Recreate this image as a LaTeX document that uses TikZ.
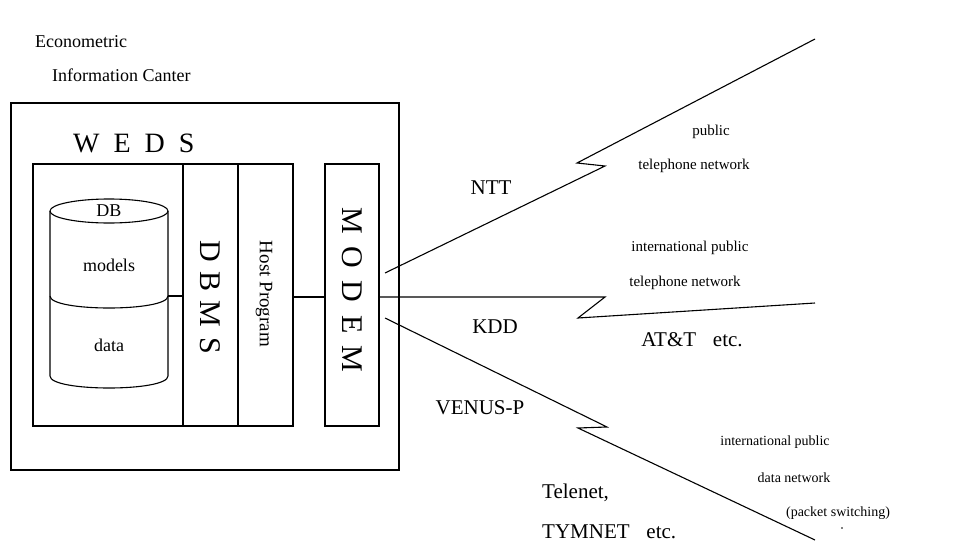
\documentclass[tikz,border=0pt]{standalone}
\usepackage{fontspec}
\setmainfont{Liberation Serif}
\begin{document}
\begin{tikzpicture}[x=1pt,y=-1pt,
  ln/.style={line width=1.1pt, line join=miter},
  boxs/.style={draw, line width=1.1pt, inner sep=0pt, rectangle},
  txt/.style={inner sep=0pt},
  big/.style={txt, font=\fontsize{21}{24}\selectfont},
  med/.style={txt, font=\fontsize{18}{21}\selectfont},
  sml/.style={txt, font=\fontsize{15}{18}\selectfont},
  tiny/.style={txt, font=\fontsize{14}{17}\selectfont}]
\useasboundingbox (0,0) rectangle (962,549);

% titles
\node[med, anchor=west] (t1) at (35,42) {Econometric};
\node[med, anchor=west] (t2) at (52,75) {Information Canter};

% boxes
\node[boxs, minimum width=388pt, minimum height=367pt] (outer) at (205,286.5) {};
\node[boxs, minimum width=150pt, minimum height=262pt] (wedsbox) at (108,295) {};
\node[boxs, minimum width=55pt, minimum height=262pt] (dbms) at (210.5,295) {};
\node[boxs, minimum width=55pt, minimum height=262pt] (host) at (265.5,295) {};
\node[boxs, minimum width=54pt, minimum height=262pt] (modem) at (352,295) {};

\node[txt, anchor=west, font=\fontsize{28}{32}\selectfont] (weds) at (73,143) {W\enspace E\enspace D\enspace S};
\node[txt, rotate=-90, font=\fontsize{30}{34}\selectfont] (dbmst) at (210,297) {D\hspace{0.32em}B\hspace{0.32em}M\hspace{0.32em}S};
\node[txt, rotate=-90, font=\fontsize{19}{22}\selectfont] (hostt) at (264,294) {Host Program};
\node[txt, rotate=-90, font=\fontsize{30}{34}\selectfont] (modemt) at (352,290) {M\hspace{0.42em}O\hspace{0.42em}D\hspace{0.42em}E\hspace{0.42em}M};

% cylinder
\draw[ln] (109,211) ellipse [x radius=59pt, y radius=12pt];
\draw[ln] (50,211) -- (50,376) .. controls (50,392) and (168,392) .. (168,376) -- (168,211);
\draw[ln] (50,296) .. controls (50,312) and (168,312) .. (168,296);
\node[med] (db) at (109,211) {DB};
\node[med] (models) at (109,265) {models};
\node[med] (data) at (109,345) {data};

% connectors
\coordinate (cylR) at (168,296);
\draw[ln] (cylR) -- (cylR -| dbms.west);
\coordinate (lk) at (0,297);
\draw[ln] (lk -| host.east) -- (lk -| modem.west);

% lightning lines
\coordinate (n0) at (385,273);
\coordinate (n1) at (605,166);
\coordinate (n2) at (577,163);
\coordinate (n3) at (815,39);
\draw[ln] (n0) -- (n1) -- (n2) -- (n3);

\coordinate (k0) at (modem.east |- lk);
\coordinate (k1) at (605,297);
\coordinate (k2) at (578,318);
\coordinate (k3) at (815,303);
\draw[ln] (k0) -- (k1) -- (k2) -- (k3);

\coordinate (v0) at (385,318);
\coordinate (v1) at (607,427);
\coordinate (v2) at (578,428);
\coordinate (v3) at (815,540);
\draw[ln] (v0) -- (v1) -- (v2) -- (v3);

% labels
\node[big] (ntt) at (491,188) {NTT};
\node[sml] (pub) at (711,132) {public};
\node[sml] (tel1) at (694,166) {telephone network};
\node[sml] (int1) at (690,248) {international public};
\node[sml] (tel2) at (685,283) {telephone network};
\node[big] (kdd) at (495,327) {KDD};
\node[big] (att) at (692,340) {AT\&T\hspace{0.8em}etc.};
\node[big] (venus) at (480,408) {VENUS-P};
\node[tiny] (int2) at (775,442) {international public};
\node[tiny] (dnet) at (794,478) {data network};
\node[tiny] (pkt) at (838,513) {(packet switching)};
\node[big, anchor=west] (telenet) at (542,493) {Telenet,};
\node[big, anchor=west] (tym) at (542,532) {TYMNET\hspace{0.8em}etc.};
\fill (842,528) circle (0.9pt);
\end{tikzpicture}
\end{document}
